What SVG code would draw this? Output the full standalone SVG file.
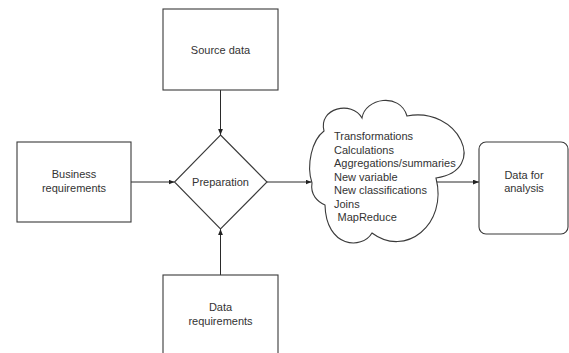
<svg xmlns="http://www.w3.org/2000/svg" width="569" height="353" viewBox="0 0 569 353">
<style>
.box{fill:#fff;stroke:#3a3a3a;stroke-width:1.1}
.t{font-family:"Liberation Sans",Arial,sans-serif;font-size:11px;fill:#333}
.c{text-anchor:middle}
.edge{stroke:#2a2a2a;stroke-width:1;fill:none;marker-end:url(#ah)}
</style>
<defs>
<marker id="ah" viewBox="0 0 10 8" refX="10" refY="4" markerWidth="6" markerHeight="5" markerUnits="userSpaceOnUse" orient="auto">
<path d="M0,0 L10,4 L0,8 Z" fill="#222"/>
</marker>
</defs>
<rect width="569" height="353" fill="#fff"/>
<g id="connectors">
<line class="edge" x1="220.5" y1="90" x2="220.5" y2="135"/>
<line class="edge" x1="220.5" y1="275" x2="220.5" y2="229"/>
<line class="edge" x1="131" y1="182" x2="174.5" y2="182"/>
<line class="edge" x1="267" y1="182" x2="311.5" y2="182"/>
<line class="edge" x1="437" y1="182" x2="479" y2="182"/>
</g>
<g id="source-data">
<rect class="box" x="163" y="9" width="115" height="81"/>
<text class="t c" x="220.5" y="54">Source data</text>
</g>
<g id="business-requirements">
<rect class="box" x="17" y="142" width="114" height="80"/>
<text class="t c" x="74" y="178">Business</text>
<text class="t c" x="74" y="191.5">requirements</text>
</g>
<g id="preparation">
<path class="box" d="M220.5,135 L267,182 L220.5,229 L174.5,182 Z"/>
<text class="t c" x="220.5" y="186">Preparation</text>
</g>
<g id="data-requirements">
<rect class="box" x="163" y="275" width="115" height="90"/>
<text class="t c" x="220.5" y="311">Data</text>
<text class="t c" x="220.5" y="324.5">requirements</text>
</g>
<g id="operations">
<path class="box" d="M312,183 C306,165 312,140 324,131 C318,108 352,100 362,118 C365,98 400,92 407,116 C458,106 490,170 436,178 C448,225 405,258 372,233 C362,250 326,248 325,205 C318,202 310,195 312,183 Z"/>
<text class="t" x="334" y="140">Transformations</text>
<text class="t" x="334" y="153.5">Calculations</text>
<text class="t" x="334" y="167">Aggregations/summaries</text>
<text class="t" x="334" y="180.5">New variable</text>
<text class="t" x="334" y="194">New classifications</text>
<text class="t" x="334" y="207.5">Joins</text>
<text class="t" x="337.5" y="221">MapReduce</text>
</g>
<g id="data-for-analysis">
<rect class="box" x="479" y="142" width="89" height="92" rx="7"/>
<text class="t c" x="524" y="179">Data for</text>
<text class="t c" x="524" y="192">analysis</text>
</g>
</svg>
